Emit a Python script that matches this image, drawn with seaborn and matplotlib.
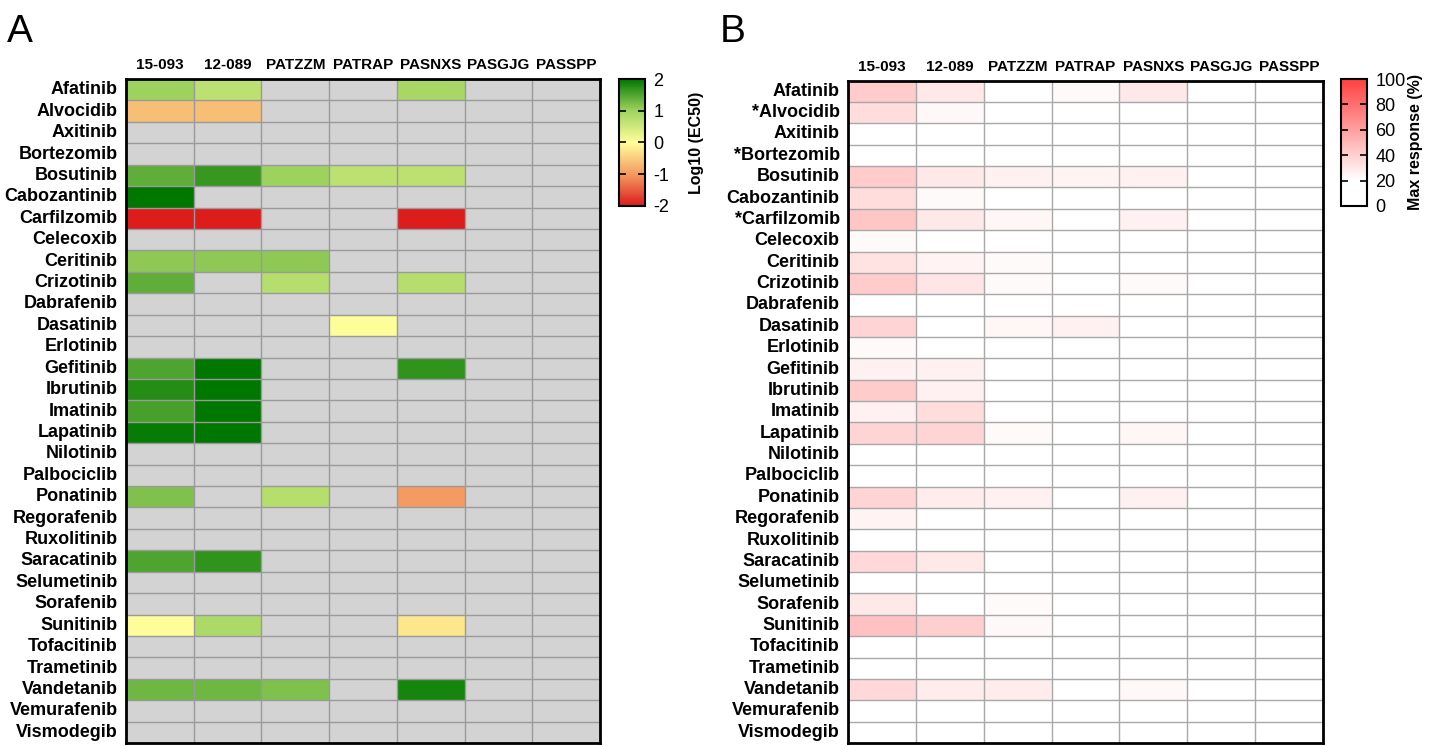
import numpy as np
import pandas as pd
import matplotlib
matplotlib.use('Agg')
import matplotlib.pyplot as plt
import seaborn as sns
from matplotlib.colors import LinearSegmentedColormap

nan = np.nan

drugs = ['Afatinib', 'Alvocidib', 'Axitinib', 'Bortezomib', 'Bosutinib', 'Cabozantinib',
         'Carfilzomib', 'Celecoxib', 'Ceritinib', 'Crizotinib', 'Dabrafenib', 'Dasatinib',
         'Erlotinib', 'Gefitinib', 'Ibrutinib', 'Imatinib', 'Lapatinib', 'Nilotinib',
         'Palbociclib', 'Ponatinib', 'Regorafenib', 'Ruxolitinib', 'Saracatinib',
         'Selumetinib', 'Sorafenib', 'Sunitinib', 'Tofacitinib', 'Trametinib',
         'Vandetanib', 'Vemurafenib', 'Vismodegib']
samples = ['15-093', '12-089', 'PATZZM', 'PATRAP', 'PASNXS', 'PASGJG', 'PASSPP']
starred = ['Alvocidib', 'Bortezomib', 'Carfilzomib']

# log10(EC50), NaN = not reached (grey)
log_ec50 = [
    [1.0, 0.7, nan, nan, 0.9, nan, nan],      # Afatinib
    [-0.65, -0.65, nan, nan, nan, nan, nan],  # Alvocidib
    [nan, nan, nan, nan, nan, nan, nan],      # Axitinib
    [nan, nan, nan, nan, nan, nan, nan],      # Bortezomib
    [1.4, 1.65, 1.0, 0.7, 0.7, nan, nan],     # Bosutinib
    [2.0, nan, nan, nan, nan, nan, nan],      # Cabozantinib
    [-2.0, -2.0, nan, nan, -2.0, nan, nan],   # Carfilzomib
    [nan, nan, nan, nan, nan, nan, nan],      # Celecoxib
    [1.1, 1.1, 1.1, nan, nan, nan, nan],      # Ceritinib
    [1.4, nan, 0.75, nan, 0.75, nan, nan],    # Crizotinib
    [nan, nan, nan, nan, nan, nan, nan],      # Dabrafenib
    [nan, nan, nan, 0.02, nan, nan, nan],     # Dasatinib
    [nan, nan, nan, nan, nan, nan, nan],      # Erlotinib
    [1.5, 2.0, nan, nan, 1.7, nan, nan],      # Gefitinib
    [1.75, 2.0, nan, nan, nan, nan, nan],     # Ibrutinib
    [1.55, 2.0, nan, nan, nan, nan, nan],     # Imatinib
    [1.95, 2.0, nan, nan, nan, nan, nan],     # Lapatinib
    [nan, nan, nan, nan, nan, nan, nan],      # Nilotinib
    [nan, nan, nan, nan, nan, nan, nan],      # Palbociclib
    [1.2, nan, 0.75, nan, -1.0, nan, nan],    # Ponatinib
    [nan, nan, nan, nan, nan, nan, nan],      # Regorafenib
    [nan, nan, nan, nan, nan, nan, nan],      # Ruxolitinib
    [1.5, 1.7, nan, nan, nan, nan, nan],      # Saracatinib
    [nan, nan, nan, nan, nan, nan, nan],      # Selumetinib
    [nan, nan, nan, nan, nan, nan, nan],      # Sorafenib
    [0.02, 0.85, nan, nan, -0.25, nan, nan],  # Sunitinib
    [nan, nan, nan, nan, nan, nan, nan],      # Tofacitinib
    [nan, nan, nan, nan, nan, nan, nan],      # Trametinib
    [1.3, 1.3, 1.2, nan, 1.85, nan, nan],     # Vandetanib
    [nan, nan, nan, nan, nan, nan, nan],      # Vemurafenib
    [nan, nan, nan, nan, nan, nan, nan],      # Vismodegib
]

# max response (%)
max_resp = [
    [42, 30, 10, 22, 30, 5, 5],    # Afatinib
    [34, 23, 10, 10, 10, 5, 5],    # Alvocidib
    [10, 10, 5, 5, 5, 5, 5],       # Axitinib
    [10, 10, 5, 5, 5, 5, 5],       # Bortezomib
    [42, 30, 26, 25, 26, 5, 5],    # Bosutinib
    [34, 22, 10, 10, 10, 5, 5],    # Cabozantinib
    [44, 30, 24, 10, 26, 5, 5],    # Carfilzomib
    [22, 10, 10, 5, 5, 5, 5],      # Celecoxib
    [32, 25, 22, 10, 10, 5, 5],    # Ceritinib
    [42, 31, 22, 10, 22, 5, 5],    # Crizotinib
    [10, 10, 5, 5, 5, 5, 5],       # Dabrafenib
    [38, 10, 24, 26, 10, 5, 5],    # Dasatinib
    [22, 10, 5, 5, 5, 5, 5],       # Erlotinib
    [26, 26, 10, 10, 10, 5, 5],    # Gefitinib
    [42, 26, 10, 10, 10, 5, 5],    # Ibrutinib
    [26, 34, 10, 10, 10, 5, 5],    # Imatinib
    [38, 38, 22, 10, 24, 5, 5],    # Lapatinib
    [10, 10, 5, 5, 5, 5, 5],       # Nilotinib
    [10, 10, 5, 5, 5, 5, 5],       # Palbociclib
    [38, 28, 26, 10, 26, 5, 5],    # Ponatinib
    [25, 10, 10, 5, 5, 5, 5],      # Regorafenib
    [10, 10, 5, 5, 5, 5, 5],       # Ruxolitinib
    [36, 30, 10, 10, 10, 5, 5],    # Saracatinib
    [10, 10, 5, 5, 5, 5, 5],       # Selumetinib
    [30, 10, 22, 10, 10, 5, 5],    # Sorafenib
    [46, 40, 23, 10, 10, 5, 5],    # Sunitinib
    [10, 10, 5, 5, 5, 5, 5],       # Tofacitinib
    [10, 10, 5, 5, 5, 5, 5],       # Trametinib
    [36, 28, 28, 10, 23, 5, 5],    # Vandetanib
    [10, 10, 5, 5, 5, 5, 5],       # Vemurafenib
    [10, 10, 5, 5, 5, 5, 5],       # Vismodegib
]

plt.rcParams['font.family'] = ['Liberation Sans', 'DejaVu Sans']
plt.rcParams['axes.unicode_minus'] = False

df_a = pd.DataFrame(log_ec50, index=drugs, columns=samples)
df_b = pd.DataFrame(max_resp, index=drugs, columns=samples)

ec50_cmap = LinearSegmentedColormap.from_list(
    'ec50', [(0, '#dd1c1c'), (0.25, '#f39b62'), (0.5, '#ffff9a'), (0.75, '#9fd35f'), (1, '#007800')])
resp_cmap = LinearSegmentedColormap.from_list(
    'resp', [(0, '#ffffff'), (0.2, '#ffffff'), (1, '#ff4040')])

fig = plt.figure(figsize=(14.37, 7.46), dpi=100)
ax_a = fig.add_axes([0.0877, 0.004, 0.3299, 0.890])
cax_a = fig.add_axes([0.4308, 0.724, 0.0181, 0.170])
ax_b = fig.add_axes([0.5901, 0.004, 0.3306, 0.888])
cax_b = fig.add_axes([0.9332, 0.724, 0.0181, 0.170])

ax_a.set_facecolor('#d3d3d3')
sns.heatmap(df_a, ax=ax_a, cbar_ax=cax_a, cmap=ec50_cmap, vmin=-2, vmax=2,
            cbar_kws={'ticks': [-2, -1, 0, 1, 2]})
sns.heatmap(df_b, ax=ax_b, cbar_ax=cax_b, cmap=resp_cmap, vmin=0, vmax=100,
            cbar_kws={'ticks': [0, 20, 40, 60, 80, 100]})

rows_b = ['*' + d if d in starred else d for d in drugs]

for ax, grid_col, rows in [(ax_a, '#9a9a9a', drugs), (ax_b, '#a8a8a8', rows_b)]:
    ax.hlines(np.arange(1, len(drugs)), 0, len(samples), color=grid_col, lw=1)
    ax.vlines(np.arange(1, len(samples)), 0, len(drugs), color=grid_col, lw=1)
    for s in ax.spines.values():
        s.set_visible(True)
        s.set_linewidth(2)
        s.set_color('black')
    ax.xaxis.tick_top()
    ax.set_xticks(np.arange(len(samples)) + 0.5)
    ax.set_xticklabels(samples, rotation=0, fontsize=11, fontweight='bold')
    ax.set_yticks(np.arange(len(drugs)) + 0.5)
    ax.set_yticklabels(rows, rotation=0, fontsize=13, fontweight='bold')
    ax.tick_params(axis='both', length=0)
    ax.tick_params(axis='x', pad=5)
    ax.tick_params(axis='y', pad=6)
    ax.set_xlabel('')
    ax.set_ylabel('')

for hm_ax, cax, label, pad in [(ax_a, cax_a, 'Log10 (EC50)', 14),
                               (ax_b, cax_b, 'Max response (%)', 2)]:
    cax.tick_params(direction='in', length=5, width=1.2, left=True, right=True,
                    labelsize=13, pad=6)
    hm_ax.collections[0].colorbar.outline.set_linewidth(1.5)
    cax.set_ylabel(label, fontsize=11.5, fontweight='bold', labelpad=pad)

fig.text(0.005, 0.944, 'A', fontsize=28)
fig.text(0.501, 0.944, 'B', fontsize=28)

plt.savefig('out.png', dpi=100)
plt.close()
